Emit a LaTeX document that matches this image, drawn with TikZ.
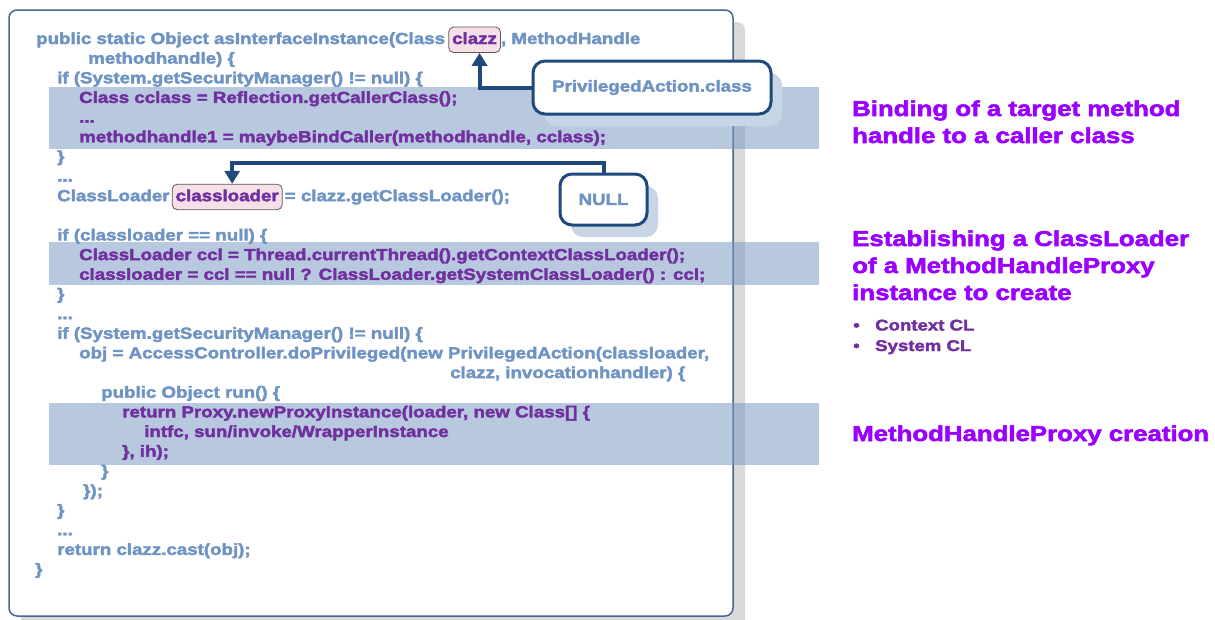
\documentclass[tikz,border=0pt]{standalone}
\usepackage{fontspec}
\setmainfont{Liberation Sans}
% heavy, wide sans used for all text
\newfontfamily\blackfont{Liberation Sans Bold}[FakeStretch=1.17,FakeBold=2.5]
\newfontfamily\headfont{Liberation Sans Bold}[FakeStretch=1.2,FakeBold=2.5]
\usetikzlibrary{shadows,arrows.meta}

\definecolor{codeblue}{RGB}{111,148,196}
\definecolor{codepurple}{RGB}{112,48,160}
\definecolor{headpurple}{RGB}{153,0,255}
\definecolor{navy}{RGB}{31,73,125}
\definecolor{framec}{RGB}{72,102,150}
\definecolor{bandc}{RGB}{126,155,195}
\definecolor{shadowgray}{RGB}{217,217,217}
\definecolor{calloutshadow}{RGB}{200,213,229}
\definecolor{hlfill}{RGB}{244,224,230}
\definecolor{hldraw}{RGB}{100,85,90}

\tikzset{
  codeframe/.style={draw=framec, line width=1.5pt, fill=white, rounded corners=8pt,
    inner sep=0pt, minimum width=724pt, minimum height=606pt,
    general shadow={fill=shadowgray, shadow xshift=12pt, shadow yshift=-12pt}},
  band/.style={fill=bandc, fill opacity=0.55, anchor=north west, inner sep=0pt,
    minimum width=770pt},
  code/.style={anchor=base west, inner sep=0pt, text=codeblue,
    font=\blackfont\fontsize{16}{19.65}\selectfont},
  hot/.style={code, text=codepurple},
  hl/.style={anchor=base west, draw=hldraw, line width=0.8pt, fill=hlfill,
    rounded corners=5pt, text=codepurple, inner xsep=3.5pt, inner ysep=5pt,
    text height=12pt, text depth=3.5pt,
    font=\blackfont\fontsize{16}{19.65}\selectfont},
  callout/.style={draw=navy, line width=3pt, fill=white, rounded corners=12pt,
    text=codeblue, inner sep=0pt, font=\blackfont\fontsize{16}{20}\selectfont,
    general shadow={fill=calloutshadow, shadow xshift=11pt, shadow yshift=-12pt}},
  arr/.style={draw=navy, line width=4pt, -{Triangle[width=15pt,length=13pt]}},
  heading/.style={anchor=base west, inner sep=0pt, align=left, text=headpurple,
    font=\headfont\fontsize{21.5}{27}\selectfont},
  bullets/.style={anchor=base west, inner sep=0pt, align=left, text=codepurple,
    font=\headfont\fontsize{15.5}{20.5}\selectfont},
}

\begin{document}
\begin{tikzpicture}[x=1pt,y=-1pt]
\useasboundingbox (0,0) rectangle (1215,619);

% code panel
\node[codeframe] (frame) at (371,313) {};

% highlighted regions
\node[band, minimum height=62pt] (bindband) at (49,87) {};
\node[band, minimum height=43pt] (loaderband) at (49,242) {};
\node[band, minimum height=62pt] (proxyband) at (49,403) {};

% source listing
\node[code] (l1a) at (36,44) {public static Object asInterfaceInstance(Class};
\node[hl] (clazz) at ([xshift=3pt]l1a.base east) {clazz};
\node[code] (l1b) at (clazz.base east) {, MethodHandle};
\node[code] (l2) at (88,63.65) {methodhandle) \{};
\node[code] (l3) at (57,83.3) {if (System.getSecurityManager() != null) \{};
\node[hot] (l4) at (79,102.95) {Class cclass = Reflection.getCallerClass();};
\node[hot] (l5) at (79,122.6) {...};
\node[hot] (l6) at (79,142.25) {methodhandle1 = maybeBindCaller(methodhandle, cclass);};
\node[code] (l7) at (57,161.9) {\}};
\node[code] (l8) at (57,181.55) {...};
\node[code] (l9a) at (57,201.2) {ClassLoader\ };
\node[hl] (cl) at ([xshift=2pt]l9a.base east) {classloader};
\node[code] (l9b) at ([xshift=2pt]cl.base east) {= clazz.getClassLoader();};
\node[code] (l10) at (57,240.5) {if (classloader == null) \{};
\node[hot] (l11) at (79,260.15) {ClassLoader ccl = Thread.currentThread().getContextClassLoader();};
\node[hot] (l12) at (79,279.8) {classloader = ccl == null ? ClassLoader.getSystemClassLoader() : ccl;};
\node[code] (l13) at (57,299.45) {\}};
\node[code] (l14) at (57,319.1) {...};
\node[code] (l15) at (57,338.75) {if (System.getSecurityManager() != null) \{};
\node[code] (l16) at (79,358.4) {obj = AccessController.doPrivileged(new PrivilegedAction(classloader,};
\node[code] (l17) at (450,378.05) {clazz, invocationhandler) \{};
\node[code] (l18) at (101,397.7) {public Object run() \{};
\node[hot] (l19) at (122,417.35) {return Proxy.newProxyInstance(loader, new Class[] \{};
\node[hot] (l20) at (144,437) {intfc, sun/invoke/WrapperInstance};
\node[hot] (l21) at (122,456.65) {\}, ih);};
\node[code] (l22) at (101,476.3) {\}};
\node[code] (l23) at (83,495.95) {\});};
\node[code] (l24) at (57,515.6) {\}};
\node[code] (l25) at (57,535.25) {...};
\node[code] (l26) at (57,554.9) {return clazz.cast(obj);};
\node[code] (l27) at (35,574.55) {\}};

% value callouts
\node[callout, minimum width=238pt, minimum height=53pt] (pa) at (652,87.5) {PrivilegedAction.class};
\node[callout, minimum width=87pt, minimum height=51pt] (null) at (603.5,199.5) {NULL};

\draw[arr] (pa.west) -| ([xshift=5pt]clazz.south);
\draw[arr] (null.north) -- ++(0,-10) -| ([xshift=5pt]cl.north);

% explanations (multi-line nodes are placed by their last baseline)
\node[heading] (h1) at (852,143) {Binding of a target method\\handle to a caller class};
\node[heading] (h2) at (852,300) {Establishing a ClassLoader\\of a MethodHandleProxy\\instance to create};
\node[bullets] (b1) at (853,351) {\makebox[22pt][l]{\textbullet}Context CL\\\makebox[22pt][l]{\textbullet}System CL};
\node[heading] (h3) at (852,441) {MethodHandleProxy creation};
\end{tikzpicture}
\end{document}
